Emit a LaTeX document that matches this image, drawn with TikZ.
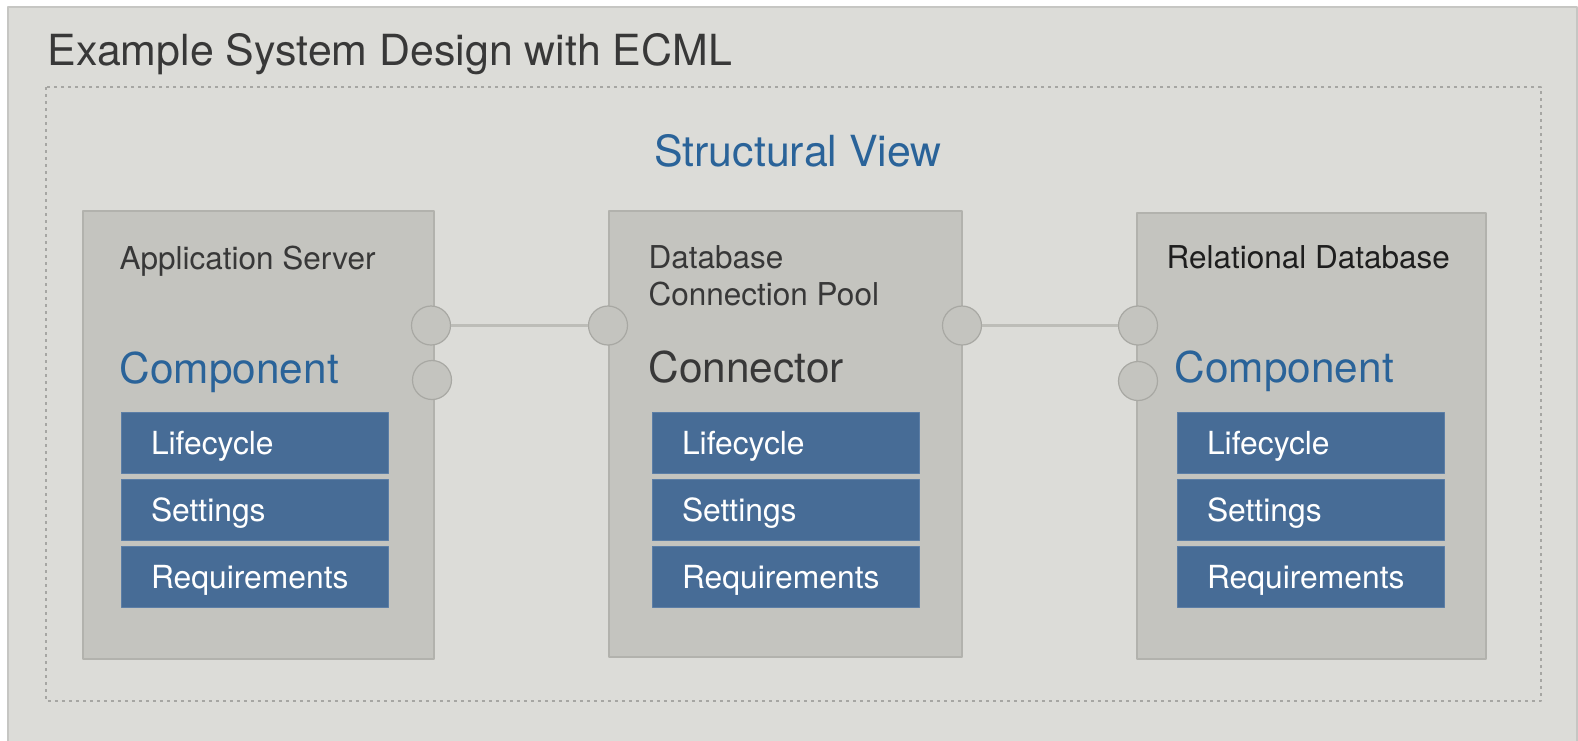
\documentclass[tikz,border=0pt]{standalone}
\usepackage{fontspec}
\setmainfont{TeX Gyre Heros}
\usetikzlibrary{positioning}
\newdimen\pxu \pxu=0.1mm
\definecolor{pagebg}{HTML}{DCDCD8}
\definecolor{framegray}{HTML}{C6C6C3}
\definecolor{dotgray}{HTML}{A6A6A3}
\definecolor{boxfill}{HTML}{C4C4BF}
\definecolor{boxline}{HTML}{B2B2AD}
\definecolor{portline}{HTML}{A8A8A3}
\definecolor{wirecol}{HTML}{BDBDB8}
\definecolor{barblue}{HTML}{476C96}
\definecolor{barline}{HTML}{5C7EA6}
\definecolor{ecmlblue}{HTML}{2A6399}
\definecolor{inkgray}{HTML}{383838}
\definecolor{inkdark}{HTML}{1E1E1E}
\newcommand\titlesize{\fontsize{12.2pt}{14pt}\selectfont}
\newcommand\kindsize{\fontsize{12.05pt}{14pt}\selectfont}
\newcommand\namesize{\fontsize{8.96pt}{10.53pt}\selectfont}
\newcommand\barsize{\fontsize{9.05pt}{11pt}\selectfont}
\begin{document}
\begin{tikzpicture}[x=0.1mm,y=-0.1mm,line join=bevel,
  compbox/.style={draw=boxline,fill=boxfill,line width=1.5\pxu,inner sep=0pt,outer sep=0pt},
  port/.style={circle,draw=portline,fill=boxfill,line width=1.2\pxu,minimum size=39\pxu,inner sep=0pt},
  wire/.style={draw=wirecol,line width=3\pxu},
  facet/.style={draw=barline,fill=barblue,line width=1\pxu,outer sep=0pt,anchor=north west,
    minimum width=267\pxu,minimum height=61\pxu,inner ysep=0pt,inner xsep=30\pxu,
    text width=207\pxu,align=left,text height=23\pxu,text depth=0pt,text=white,font=\barsize},
  label/.style={inner sep=0pt,anchor=base west},
  ]
\useasboundingbox (0,0) rectangle (1578,740);
%% background
\fill[white] (0,0) rectangle (1578,740);
\draw[framegray,fill=pagebg,line width=1.5\pxu] (8,7) rectangle (1577,760);
\draw[dotgray,line width=2\pxu,dash pattern=on 3\pxu off 4\pxu] (46,87) rectangle (1541,701);
%%
\node [label,text=inkgray,font=\titlesize] (title) at (47,65) {Example System Design with ECML};
\node [inner sep=0pt,anchor=base,text=ecmlblue,font=\titlesize] (view) at (798,166) {Structural View};
%% components and connector
\node [compbox,minimum width=351\pxu,minimum height=448\pxu] (appsrv) at (258.5,435) {};
\node [compbox,minimum width=353\pxu,minimum height=446\pxu] (pool) at (785.5,434) {};
\node [compbox,minimum width=349\pxu,minimum height=446\pxu] (reldb) at (1311.5,436) {};
\node [label,text=inkgray,font=\namesize] (appsrv_name) at (119,269) {Application Server};
\node [label,text=inkgray,font=\namesize] (pool_name1) at (648,268) {Database};
\node [label,text=inkgray,font=\namesize] (pool_name2) at (648,305) {Connection Pool};
\node [label,text=inkdark,font=\namesize] (reldb_name) at (1166,268) {Relational Database};
\node [label,text=ecmlblue,font=\kindsize] (appsrv_kind) at (119,383) {Component};
\node [label,text=inkgray,font=\kindsize] (pool_kind) at (648,382) {Connector};
\node [label,text=ecmlblue,font=\kindsize] (reldb_kind) at (1174,382) {Component};
%% facets
\node [facet] (appsrv_life) at (121,412) {Lifecycle};
\node [facet,below=6\pxu of appsrv_life] (appsrv_set) {Settings};
\node [facet,below=6\pxu of appsrv_set] (appsrv_req) {Requirements};
\node [facet] (pool_life) at (652,412) {Lifecycle};
\node [facet,below=6\pxu of pool_life] (pool_set) {Settings};
\node [facet,below=6\pxu of pool_set] (pool_req) {Requirements};
\node [facet] (reldb_life) at (1177,412) {Lifecycle};
\node [facet,below=6\pxu of reldb_life] (reldb_set) {Settings};
\node [facet,below=6\pxu of reldb_set] (reldb_req) {Requirements};
%% ports
\node [port] (appsrv_p1) at (431,325.5) {};
\node [port] (appsrv_p2) at (432,380) {};
\node [port] (pool_p1) at (608,325.5) {};
\node [port] (pool_p2) at (962,325.5) {};
\node [port] (reldb_p1) at (1138,325.5) {};
\node [port] (reldb_p2) at (1138,381) {};
\draw [wire] (appsrv_p1) -- (pool_p1);
\draw [wire] (pool_p2) -- (reldb_p1);
\end{tikzpicture}
\end{document}
